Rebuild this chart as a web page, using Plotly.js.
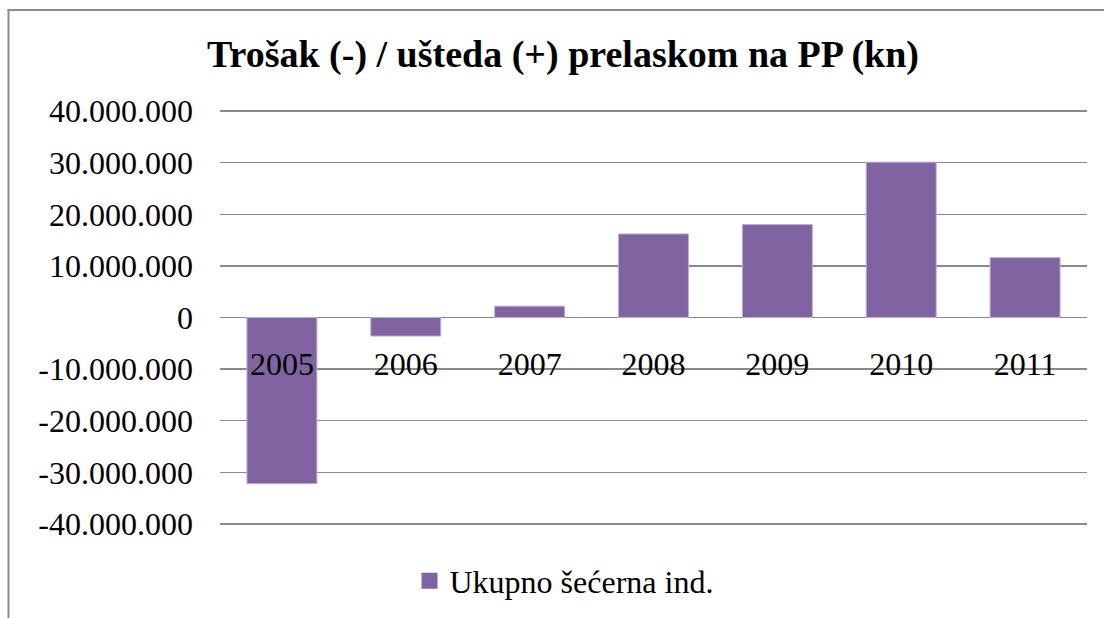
<!DOCTYPE html>
<html>
<head>
<meta charset="utf-8">
<script src="https://cdn.plot.ly/plotly-3.0.1.min.js"></script>
<style>
html,body{margin:0;padding:0;background:#fff;}
#chart{width:1104px;height:618px;}
</style>
</head>
<body>
<div id="chart"></div>
<script>
var years = ['2005', '2006', '2007', '2008', '2009', '2010', '2011'];
var ukupnoSecernaInd = [-32200000, -3600000, 2200000, 16200000, 18000000, 30100000, 11600000];
var yTickVals = [-40000000, -30000000, -20000000, -10000000, 0, 10000000, 20000000, 30000000, 40000000];
var yTickText = ['-40.000.000', '-30.000.000', '-20.000.000', '-10.000.000', '0', '10.000.000', '20.000.000', '30.000.000', '40.000.000'];
var seriesName = 'Ukupno šećerna ind.';
var chartTitle = 'Trošak (-) / ušteda (+) prelaskom na PP (kn)';

var L = 220, R = 17, T = 107.5, B = 91;
var W = 1104, H = 618;
var pw = W - L - R, ph = H - T - B;
function px(x){ return (x - L) / pw; }
function py(y){ return (H - B - y) / ph; }

var font = "'Liberation Serif', 'Times New Roman', Times, serif";
var purple = '#8064A2';

var data = [{
  type: 'bar',
  x: years,
  y: ukupnoSecernaInd,
  name: seriesName,
  marker: {color: purple, line: {color: '#bcaed3', width: 1}},
  showlegend: false
}, {
  type: 'scatter',
  mode: 'markers',
  x: [null], y: [null],
  name: seriesName,
  marker: {symbol: 'square', size: 17, color: purple},
  showlegend: true,
  hoverinfo: 'skip'
}];

var layout = {
  width: W, height: H,
  margin: {l: L, r: R, t: T, b: B},
  paper_bgcolor: '#fff', plot_bgcolor: '#fff',
  font: {family: font, color: '#000'},
  title: {text: '<b>' + chartTitle + '</b>', font: {family: font, size: 38, color: '#000'},
          x: 563 / W, xanchor: 'center', y: 1 - 54 / H, yanchor: 'middle'},
  bargap: 0.435,
  xaxis: {
    type: 'category',
    anchor: 'free', position: 0.5,
    showgrid: false, showline: false, zeroline: false, ticks: '',
    tickfont: {family: font, size: 32, color: '#000'},
    ticklabelstandoff: 24,
    fixedrange: true
  },
  yaxis: {
    range: [-40600000, 40600000],
    tickvals: yTickVals, ticktext: yTickText,
    showgrid: true, gridcolor: '#8a8a8a', gridwidth: 1.5,
    zeroline: false, showline: false, ticks: '',
    tickfont: {family: font, size: 32, color: '#000'},
    ticklabelstandoff: 26,
    fixedrange: true
  },
  legend: {
    orientation: 'h', x: 564 / W, xref: 'container', xanchor: 'center',
    y: 1 - 581 / H, yref: 'container', yanchor: 'middle',
    font: {family: font, size: 32, color: '#000'},
    itemwidth: 30
  },
  shapes: [
    {type: 'line', xref: 'paper', yref: 'paper', x0: px(8.5), x1: px(8.5), y0: py(9), y1: py(620),
     line: {color: '#8c8c8c', width: 2}},
    {type: 'line', xref: 'paper', yref: 'paper', x0: px(7.5), x1: px(1106), y0: py(9.5), y1: py(9.5),
     line: {color: '#8c8c8c', width: 2}}
  ]
};

Plotly.newPlot('chart', data, layout, {displayModeBar: false, staticPlot: true});
</script>
</body>
</html>
